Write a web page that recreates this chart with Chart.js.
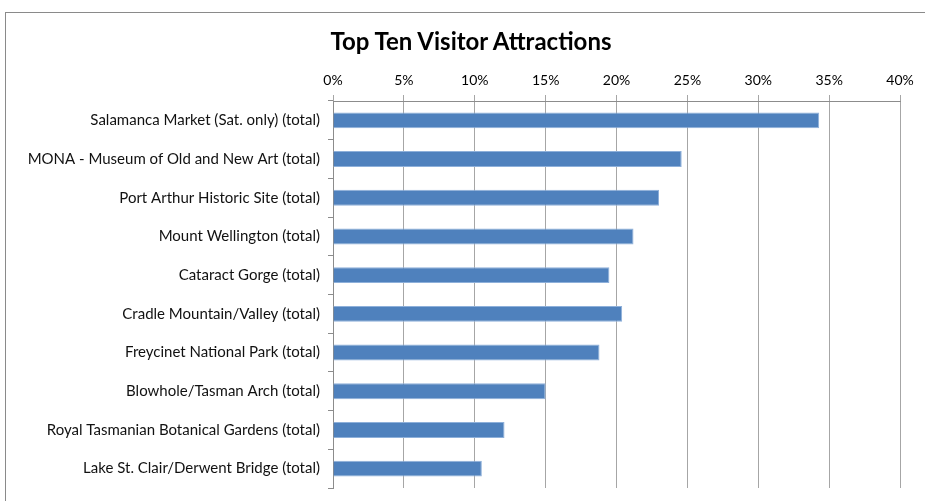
<!DOCTYPE html>
<html>
<head>
<meta charset="utf-8">
<script src="https://cdn.jsdelivr.net/npm/chart.js@4"></script>
<style>
  html, body { margin: 0; padding: 0; background: #fff; }
  #wrap { position: relative; width: 925px; height: 501px; overflow: hidden; }
  #frame { position: absolute; left: 5px; top: 12px; width: 940px; height: 520px; border: 1px solid #8a8a8a; box-sizing: border-box; pointer-events: none; }
  #title { position: absolute; left: 271px; width: 400px; top: 26px; text-align: center; font: bold 24px Lato, 'Open Sans', sans-serif; color: #000; line-height: 30px; }
  canvas { position: absolute; left: 0; top: 0; }
</style>
</head>
<body>
<div id="wrap">
  <canvas id="c" width="925" height="501"></canvas>
  <div id="title"></div>
  <div id="frame"></div>
</div>
<script>
const categories = [
  "Salamanca Market (Sat. only) (total)",
  "MONA - Museum of Old and New Art (total)",
  "Port Arthur Historic Site (total)",
  "Mount Wellington (total)",
  "Cataract Gorge (total)",
  "Cradle Mountain/Valley (total)",
  "Freycinet National Park (total)",
  "Blowhole/Tasman Arch (total)",
  "Royal Tasmanian Botanical Gardens (total)",
  "Lake St. Clair/Derwent Bridge (total)"
];
const values = [34.3, 24.6, 23.0, 21.2, 19.5, 20.4, 18.8, 15.0, 12.1, 10.5];
const xTicks = [0, 5, 10, 15, 20, 25, 30, 35, 40];
const chartTitle = "Top Ten Visitor Attractions";

document.getElementById('title').textContent = chartTitle;

const FONT = "Lato, 'Open Sans', sans-serif";

new Chart(document.getElementById('c'), {
  type: 'bar',
  data: {
    labels: categories,
    datasets: [{
      data: values,
      backgroundColor: '#4f81bd',
      borderColor: '#8eb0da',
      borderWidth: 1,
      barPercentage: 0.41,
      categoryPercentage: 1.0
    }]
  },
  options: {
    indexAxis: 'y',
    responsive: false,
    animation: false,
    layout: { padding: { left: 0, right: 25, top: 62, bottom: 13 } },
    plugins: {
      legend: { display: false },
      tooltip: { enabled: false },
      title: { display: false }
    },
    scales: {
      x: {
        position: 'top',
        min: 0,
        max: 40,
        afterBuildTicks: (s) => { s.ticks = xTicks.map(v => ({ value: v })); },
        afterFit: (s) => { s.height = 39; s.paddingLeft = 0; s.paddingRight = 0; },
        ticks: {
          callback: (v) => v + '%',
          color: '#000',
          font: { family: FONT, size: 14 },
          padding: 6,
          maxRotation: 0
        },
        grid: { color: '#a6a6a6', lineWidth: 1, tickLength: 6, drawTicks: true },
        border: { color: '#8c8c8c', width: 1 }
      },
      y: {
        afterFit: (s) => { s.width = 333; s.paddingTop = 0; s.paddingBottom = 0; },
        ticks: {
          color: '#111',
          font: { family: FONT, size: 15 },
          padding: 8
        },
        grid: { offset: true, drawOnChartArea: false, color: '#8c8c8c', tickLength: 5 },
        border: { color: '#8c8c8c', width: 1 }
      }
    }
  }
});
</script>
</body>
</html>
